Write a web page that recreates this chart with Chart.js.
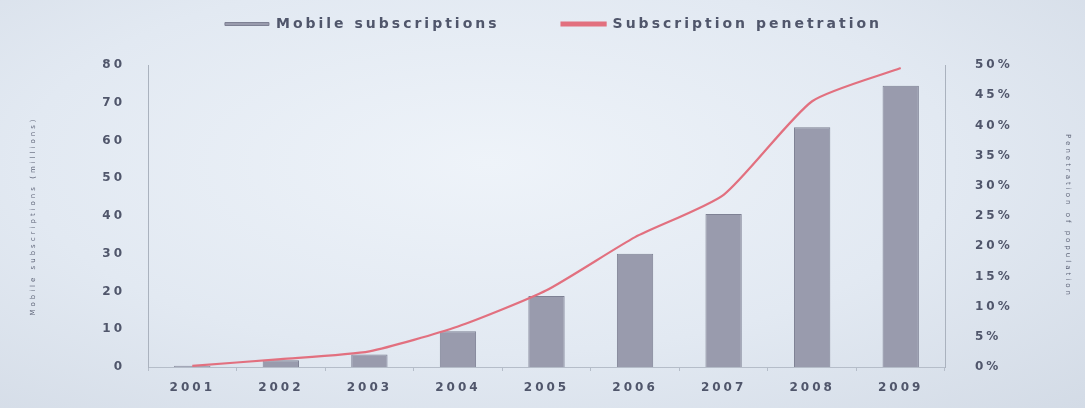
<!DOCTYPE html>
<html>
<head>
<meta charset="utf-8">
<script src="https://cdn.jsdelivr.net/npm/chart.js@4/dist/chart.umd.min.js"></script>
<style>
  html, body { margin: 0; padding: 0; }
  body {
    width: 1085px; height: 408px; overflow: hidden;
    background: radial-gradient(ellipse at 45% 40%, #eef3f9 0%, #e2e9f2 55%, #d3dbe6 100%);
  }
  #wrap { position: relative; width: 1085px; height: 408px; }
</style>
</head>
<body>
<div id="wrap"><canvas id="combo"></canvas></div>
<script>
// values
const years = ['2001', '2002', '2003', '2004', '2005', '2006', '2007', '2008', '2009'];
const subscriptions = [0.3, 1.8, 3.3, 9.5, 18.8, 30, 40.5, 63.5, 74.5]; // millions
const penetration = [0.2, 1.3, 2.6, 6.7, 12.7, 21.5, 28.5, 44, 49.5];  // % of population
const leftTicks = [0, 80, 10];   // min, max, step
const rightTicks = [0, 50, 5];

const textCol = '#50566b';
const spacing = '3px';

// canvas letter spacing, the slide font is very wide
const spacingPlugin = {
  id: 'spacing',
  beforeLayout(chart) { chart.ctx.letterSpacing = spacing; },
  beforeDraw(chart) { chart.ctx.letterSpacing = spacing; }
};

// legend needs big gap between the items but must stay short
const legendHeight = {
  id: 'legendHeight',
  beforeInit(chart) {
    const fit = chart.legend.fit;
    chart.legend.fit = function () {
      fit.call(this);
      this.height = 110;
    };
  }
};

document.addEventListener("DOMContentLoaded", function () {
  const ctx = document.getElementById('combo');
  if (ctx) {
    new Chart(ctx, {
      type: 'bar',
      data: {
        labels: years,
        datasets: [{
          label: 'Mobile subscriptions',
          data: subscriptions,
          yAxisID: 'y',
          order: 1,
          backgroundColor: '#999bad',
          borderColor: '#7e8194',
          borderWidth: 1,
          barPercentage: 0.41,
          categoryPercentage: 1
        }, {
          type: 'line',
          label: 'Subscription penetration',
          data: penetration,
          yAxisID: 'y1',
          order: 0,
          borderColor: '#e2707f',
          backgroundColor: '#e2707f',
          borderWidth: 2.2,
          pointRadius: 0,
          tension: 0.2
        }]
      },
      options: {
        responsive: true,
        maintainAspectRatio: false,
        animation: false,
        layout: { padding: { top: -45, left: 22, right: 0, bottom: 0 } },
        plugins: {
          tooltip: { enabled: false },
          legend: {
            position: 'top',
            labels: {
              boxWidth: 44,
              boxHeight: 3,
              padding: 62,
              color: textCol,
              font: { family: 'DejaVu Sans', size: 14, weight: 'bold' },
              sort: (a, b) => a.datasetIndex - b.datasetIndex
            }
          }
        },
        scales: {
          x: {
            offset: true,
            grid: { display: true, drawOnChartArea: false, offset: true, tickLength: 4, color: '#b5bdc9' },
            border: { color: '#b5bdc9' },
            ticks: { color: textCol, padding: 10, font: { family: 'DejaVu Sans', size: 12, weight: 'bold' } },
            afterFit(scale) { scale.height = 41; }
          },
          y: {
            position: 'left',
            min: leftTicks[0],
            max: leftTicks[1],
            grid: { display: false },
            border: { display: true, color: '#aab2be' },
            ticks: { stepSize: leftTicks[2], padding: 15, color: textCol, font: { family: 'DejaVu Sans', size: 12, weight: 'bold' } },
            title: {
              display: true,
              text: 'Mobile subscriptions (millions)',
              color: '#5e6478',
              font: { family: 'DejaVu Sans', size: 7 },
              padding: { top: 7, bottom: 0 }
            },
            afterFit(scale) { scale.width = 126; }
          },
          y1: {
            position: 'right',
            min: rightTicks[0],
            max: rightTicks[1],
            grid: { display: false },
            border: { display: true, color: '#aab2be' },
            ticks: {
              stepSize: rightTicks[2], padding: 22, color: textCol,
              font: { family: 'DejaVu Sans', size: 12, weight: 'bold' },
              callback: v => v + '%'
            },
            title: {
              display: true,
              text: 'Penetration of population',
              color: '#5e6478',
              font: { family: 'DejaVu Sans', size: 7 },
              padding: { top: 13, bottom: 0 }
            },
            afterFit(scale) { scale.width = 140; }
          }
        }
      },
      plugins: [spacingPlugin, legendHeight]
    });
  } else {
    console.error('canvas element with ID "combo" not found');
  }
});
</script>
</body>
</html>
